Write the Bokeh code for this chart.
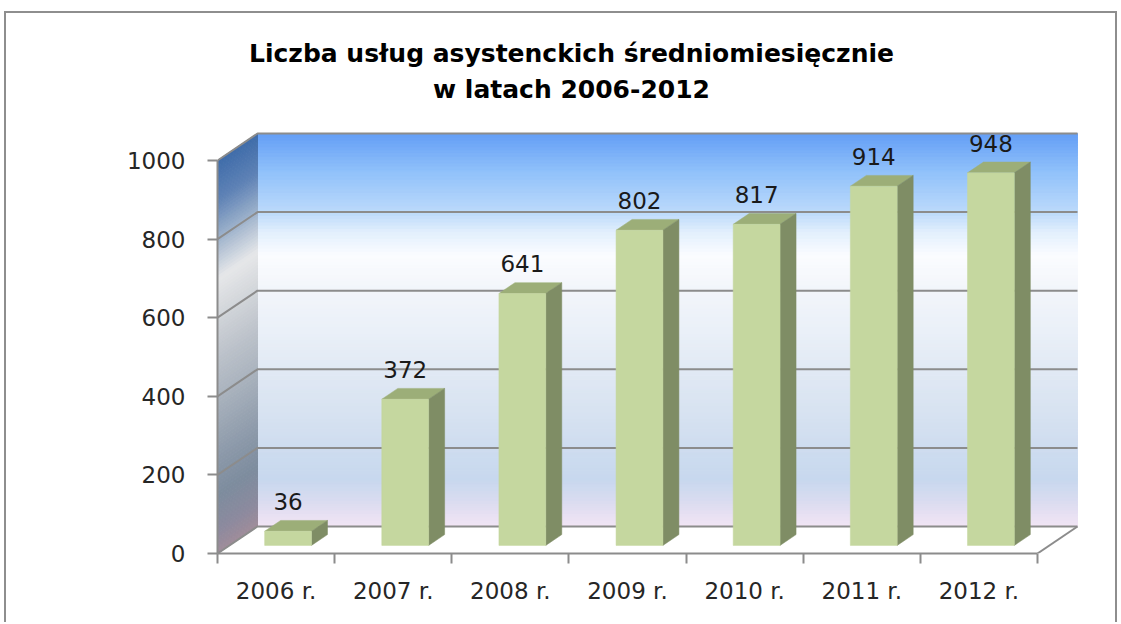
import numpy as np
from bokeh.plotting import figure
from bokeh.models import Range1d, FixedTicker, LinearAxis, Label
from bokeh.embed import file_html
from bokeh.resources import INLINE
from bokeh.core.properties import value

# ---------------- data ----------------
categories = ["2006 r.", "2007 r.", "2008 r.", "2009 r.", "2010 r.", "2011 r.", "2012 r."]
values = [36, 372, 641, 802, 817, 914, 948]
y_ticks = [0, 200, 400, 600, 800, 1000]
title_lines = ["Liczba usług asystenckich średniomiesięcznie", "w latach 2006-2012"]

# ---------------- layout / style constants ----------------
W, H = 1120, 622
LEFT = 217                # frame left (px)
FRAME_BOTTOM = 553        # frame bottom (px)
BOTTOM = H - FRAME_BOTTOM
CAT_PX = 117.14           # pixels per category
VAL_PX = 0.393            # pixels per value unit
n = len(categories)
frame_w = W - LEFT
frame_h = FRAME_BOTTOM
DX = 40 / CAT_PX          # depth offset (x, data units)
DY = 27 / VAL_PX          # depth offset (y, data units)
BAR_W = 0.4
BAR_Z = 0.3               # bar front position as fraction of depth
BAR_D = 0.4               # bar depth as fraction of depth
YMAX = y_ticks[-1]
GRID = "#8c8c8c"
TXT = "#262626"


def px_x(px):  # pixel -> data x
    return (px - LEFT) / CAT_PX


def px_y(py):  # pixel -> data y
    return (frame_h - py) / VAL_PX


def gradient(stops, vals):
    pos = [s[0] for s in stops]
    rgb = np.array([[int(s[1][i:i + 2], 16) for i in (1, 3, 5)] for s in stops], float)
    out = []
    for v in vals:
        c = [int(round(np.interp(v, pos, rgb[:, k]))) for k in range(3)]
        out.append("#%02x%02x%02x" % tuple(c))
    return out


back_stops = [(0, "#f3e5f5"), (60, "#dcdcf0"), (120, "#c7d8ee"), (200, "#cedcef"),
              (300, "#d8e3f1"), (400, "#e1e9f4"), (500, "#eaf0f8"), (600, "#f2f5fa"),
              (690, "#fbfcff"), (750, "#e2effd"), (800, "#bcdafb"), (900, "#92c2fa"),
              (1000, "#649ff6")]
side_stops = [(0, "#a08c9a"), (60, "#8c8a9e"), (150, "#7d8c9e"), (250, "#8d9aaa"),
              (400, "#aab3be"), (500, "#bcc2ca"), (620, "#d5d8dc"), (700, "#e6e7e9"),
              (800, "#9fb3cc"), (900, "#5e82b5"), (1000, "#3f6caa")]

p = figure(width=W, height=H, output_backend="svg", toolbar_location=None,
           x_range=Range1d(0, frame_w / CAT_PX), y_range=Range1d(0, frame_h / VAL_PX),
           x_axis_type=None, y_axis_type=None,
           min_border_left=LEFT, min_border_bottom=BOTTOM, min_border_top=0, min_border_right=0)
p.outline_line_color = None
p.background_fill_color = None
p.border_fill_color = None
# chart-area border (left, top, right)
p.styles = {
    "background-image": "linear-gradient(#8e8e8e,#8e8e8e), linear-gradient(#8e8e8e,#8e8e8e), "
                        "linear-gradient(#8e8e8e,#8e8e8e)",
    "background-position": "4px 11px, 4px 11px, 1115px 11px",
    "background-size": "2px 100%, 1113px 2px, 2px 100%",
    "background-repeat": "no-repeat",
}

# ---------------- walls ----------------
edges = np.linspace(0, YMAX, 121)
mids = (edges[:-1] + edges[1:]) / 2
bcols = gradient(back_stops, mids)
p.quad(left=DX, right=n + DX, bottom=edges[:-1] + DY, top=edges[1:] + DY,
       fill_color=bcols, line_color=bcols, line_width=1)
scols = gradient(side_stops, mids)
p.patches(xs=[[0, DX, DX, 0] for _ in mids],
          ys=[[a, a + DY, b + DY, b] for a, b in zip(edges[:-1], edges[1:])],
          fill_color=scols, line_color=scols, line_width=1)

# ---------------- gridlines & floor edges ----------------
gx = [[0, DX, n + DX] for _ in y_ticks] + [[n, n + DX]]
gy = [[v, v + DY, v + DY] for v in y_ticks] + [[0, DY]]
p.multi_line(xs=gx, ys=gy, line_color=GRID, line_width=2)

# ---------------- bars ----------------
vals = np.array(values, float)
cx = np.arange(n) + 0.5 + BAR_Z * DX
x0 = cx - BAR_W / 2
x1 = cx + BAR_W / 2
yb = BAR_Z * DY
yt = vals + yb
bdx, bdy = BAR_D * DX, BAR_D * DY

p.patches(xs=[[a, b, b + bdx, a + bdx] for a, b in zip(x0, x1)],
          ys=[[t, t, t + bdy, t + bdy] for t in yt],
          fill_color="#9cae78", line_color="#9cae78", line_width=0.5)
p.patches(xs=[[b, b + bdx, b + bdx, b] for b in x1],
          ys=[[yb, yb + bdy, t + bdy, t] for t in yt],
          fill_color="#7f8d65", line_color="#7f8d65", line_width=0.5)
p.quad(left=x0, right=x1, bottom=yb, top=yt,
       fill_color="#c5d79f", line_color="#c5d79f", line_width=0.5)

p.text(x=cx, y=yt + bdy, text=[str(v) for v in values], y_offset=-19,
       text_align="center", text_baseline="alphabetic",
       text_font=value("DejaVu Sans"), text_font_size="23px", text_color="#1a1a1a")

# ---------------- axes ----------------
xaxis = LinearAxis(ticker=FixedTicker(ticks=[i + 0.5 for i in range(n)],
                                      minor_ticks=list(range(n + 1))),
                   bounds=(0, n),
                   major_label_overrides={i + 0.5: c for i, c in enumerate(categories)})
xaxis.axis_line_color = GRID
xaxis.axis_line_width = 2
xaxis.major_tick_line_color = None
xaxis.major_tick_out = 10
xaxis.major_tick_in = 0
xaxis.minor_tick_line_color = GRID
xaxis.minor_tick_line_width = 2
xaxis.minor_tick_out = 10
xaxis.minor_tick_in = 0
xaxis.major_label_standoff = 14
xaxis.major_label_text_font = "DejaVu Sans"
xaxis.major_label_text_font_size = "23px"
xaxis.major_label_text_color = TXT
p.add_layout(xaxis, "below")

yaxis = LinearAxis(ticker=FixedTicker(ticks=y_ticks, minor_ticks=[]), bounds=(0, YMAX))
yaxis.axis_line_color = GRID
yaxis.axis_line_width = 2
yaxis.major_tick_line_color = GRID
yaxis.major_tick_line_width = 2
yaxis.major_tick_out = 10
yaxis.major_tick_in = 0
yaxis.minor_tick_line_color = None
yaxis.major_label_standoff = 22
yaxis.major_label_text_font = "DejaVu Sans"
yaxis.major_label_text_font_size = "23px"
yaxis.major_label_text_color = TXT
p.add_layout(yaxis, "left")

# ---------------- title ----------------
for line, py in zip(title_lines, [53, 89]):
    p.add_layout(Label(x=px_x(571), y=px_y(py), text=line, text_align="center",
                       text_baseline="middle", text_font="DejaVu Sans", text_font_style="bold",
                       text_font_size="25px", text_color="#000000"))

open("out.html", "w").write(file_html(p, INLINE))
